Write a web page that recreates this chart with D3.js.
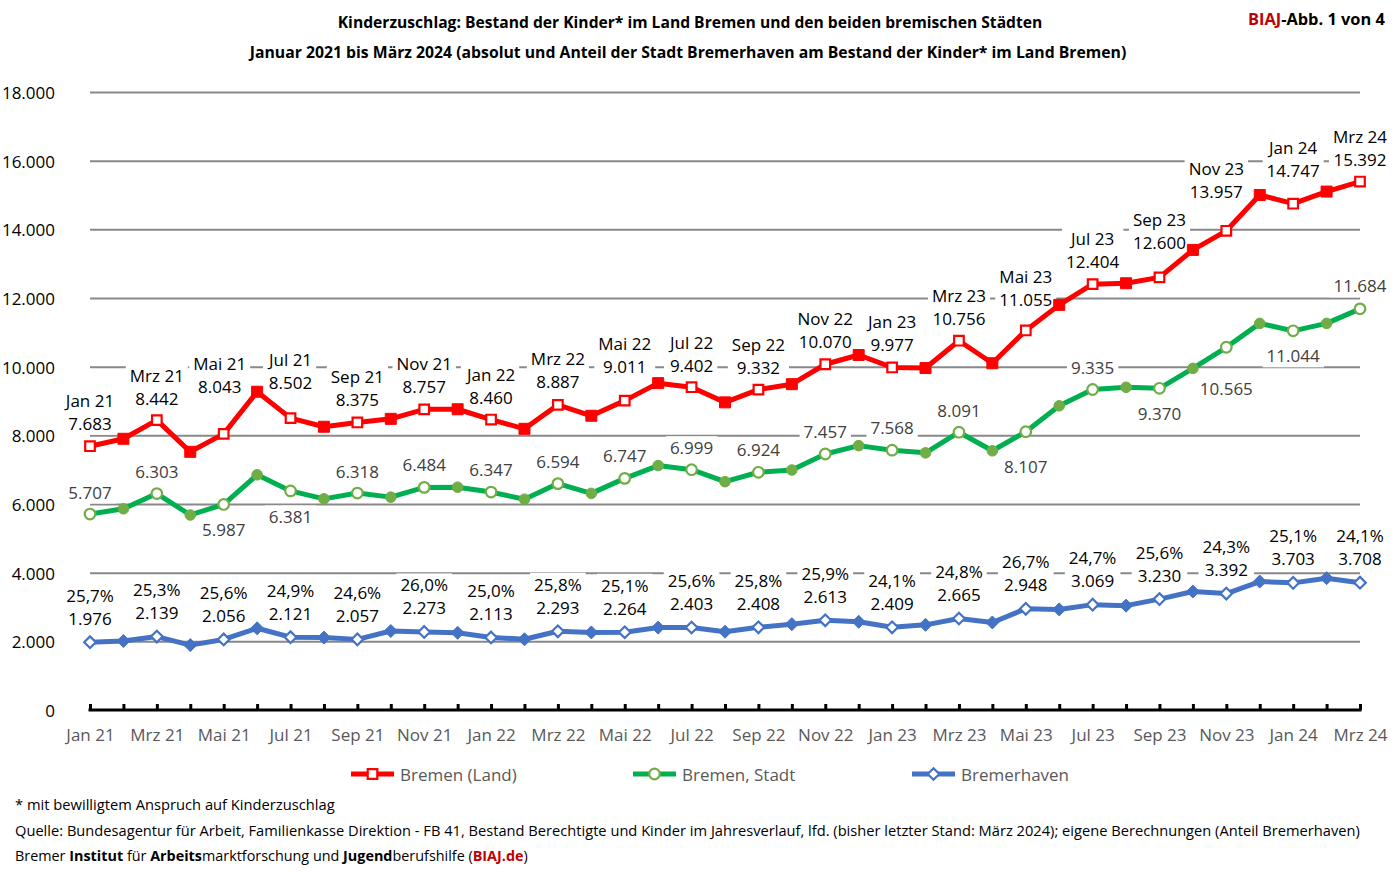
<!DOCTYPE html>
<html><head><meta charset="utf-8">
<script src="https://cdn.jsdelivr.net/npm/d3@7"></script>
<style>body{margin:0;background:#fff}svg{display:block}</style>
</head><body>
<svg id="chart" width="1400" height="872"></svg>
<script>
// ---------- DATA ----------
const months = ["Jan 21","Feb 21","Mrz 21","Apr 21","Mai 21","Jun 21","Jul 21","Aug 21","Sep 21","Okt 21","Nov 21","Dez 21",
"Jan 22","Feb 22","Mrz 22","Apr 22","Mai 22","Jun 22","Jul 22","Aug 22","Sep 22","Okt 22","Nov 22","Dez 22",
"Jan 23","Feb 23","Mrz 23","Apr 23","Mai 23","Jun 23","Jul 23","Aug 23","Sep 23","Okt 23","Nov 23","Dez 23",
"Jan 24","Feb 24","Mrz 24"];
const bremenLand = [7683,7900,8442,7520,8043,9270,8502,8250,8375,8480,8757,8760,8460,8190,8887,8570,9011,9520,9402,8960,
9332,9490,10070,10340,9977,9960,10756,10100,11055,11800,12404,12430,12600,13400,13957,15000,14747,15100,15392];
const bremenStadt = [5707,5860,6303,5680,5987,6850,6381,6150,6318,6200,6484,6490,6347,6140,6594,6310,6747,7120,6999,6650,
6924,6990,7457,7700,7568,7490,8091,7550,8107,8860,9335,9400,9370,9950,10565,11260,11044,11260,11684];
const bremerhaven = [1976,2010,2139,1890,2056,2380,2121,2110,2057,2300,2273,2250,2113,2060,2293,2260,2264,2400,2403,2280,
2408,2500,2613,2570,2409,2480,2665,2550,2948,2930,3069,3040,3230,3450,3392,3740,3703,3840,3708];
// Anteil Bremerhaven (%), labelled months (every second month from Jan 21)
const bremerhavenShare = [25.7,25.3,25.6,24.9,24.6,26.0,25.0,25.8,25.1,25.6,25.8,25.9,24.1,24.8,26.7,24.7,25.6,24.3,25.1,24.1];
const yTicks = [0,2000,4000,6000,8000,10000,12000,14000,16000,18000];
const seriesNames = ["Bremen (Land)","Bremen, Stadt","Bremerhaven"];

// ---------- LAYOUT (label placement, px) ----------
const redLabelLift = [23,22,47,36,23,23,22,23,34,22,22,23,22.5,22,31,22.5,35,39,33,22];
const greenLabelShift = [-22,-22,25.5,26,-22,-23,-23,-22.6,-23,-22,-23,-22,-22.5,-22,35,-22,25.7,41,25,-23];
const redLabelDx = new Array(20).fill(0); redLabelDx[17] = -10; redLabelDx[2] = -4;

// ---------- CHART ----------
const svg = d3.select("#chart");
const FONT = "'Open Sans','Noto Sans',sans-serif";
const FS = 17;
const NARROW = "'Liberation Sans Narrow','Open Sans',sans-serif";
const x = d3.scalePoint().domain(months).range([90,1360]);
const y = d3.scaleLinear().domain([0,18000]).range([710,92]);
const fmt = d3.formatLocale({decimal:",",thousands:".",grouping:[3],currency:["","€"]});
const fmtN = fmt.format(",d");
const fmtP = v => fmt.format(".1f")(v) + "%";

function fitText(sel, targetW, anchor, tx, ty){
  const w = sel.node().getComputedTextLength();
  const s = w > 0 ? targetW / w : 1;
  sel.attr("x",0).attr("y",0).attr("text-anchor",anchor)
     .attr("transform",`translate(${tx},${ty}) scale(${s},1)`);
}

// Titles
const t1 = svg.append("text").attr("font-family",NARROW).attr("font-weight","bold").attr("font-size",16)
  .attr("dominant-baseline","central").attr("fill","#000")
  .text("Kinderzuschlag: Bestand der Kinder* im Land  Bremen und den beiden bremischen Städten");
fitText(t1, 705, "middle", 690, 22);
const t2 = svg.append("text").attr("font-family",NARROW).attr("font-weight","bold").attr("font-size",16)
  .attr("dominant-baseline","central").attr("fill","#000")
  .text("Januar  2021 bis März 2024 (absolut und Anteil der Stadt Bremerhaven am Bestand der Kinder* im Land  Bremen)");
fitText(t2, 877, "middle", 688, 52);
const t3 = svg.append("text").attr("font-family",NARROW).attr("font-weight","bold").attr("font-size",16)
  .attr("dominant-baseline","central");
t3.append("tspan").attr("fill","#C00000").text("BIAJ");
t3.append("tspan").attr("fill","#000").text("-Abb. 1 von 4");
fitText(t3, 137, "start", 1248, 19);

// Grid + y labels
const gGrid = svg.append("g").attr("transform","translate(90,0)")
  .call(d3.axisLeft(y).tickValues(yTicks).tickSize(-1270).tickPadding(35).tickFormat(d=>fmtN(d)));
gGrid.select(".domain").remove();
gGrid.selectAll(".tick line").attr("stroke","#898989").attr("stroke-width",2)
  .filter(d=>d===0).remove();
gGrid.selectAll(".tick text").attr("font-family",FONT).attr("font-size",FS).attr("fill","#000")
  .attr("dy",null).attr("dominant-baseline","central");

const labelBg = svg.append("g");
const seriesG = svg.append("g");
const labelG = svg.append("g");

// x axis
const gx = svg.append("g").attr("transform","translate(0,710)")
  .call(d3.axisBottom(x).tickSizeInner(-6).tickSizeOuter(0).tickPadding(0)
    .tickFormat((d,i)=> i%2===0 ? d : ""));
gx.select(".domain").attr("stroke","#000").attr("stroke-width",3).attr("d","M88.5,0H1361.5");
gx.selectAll(".tick line").attr("stroke","#000").attr("stroke-width",3);
gx.selectAll(".tick text").attr("font-family",FONT).attr("font-size",FS).attr("fill","#595959")
  .attr("dy",null).attr("y",24).attr("dominant-baseline","central");

// series
const series = [
  {name:seriesNames[0], data:bremenLand, line:"#FF0000", mark:"#FF0000", shape:"square"},
  {name:seriesNames[1], data:bremenStadt, line:"#00B050", mark:"#70AD47", shape:"circle"},
  {name:seriesNames[2], data:bremerhaven, line:"#4472C4", mark:"#4472C4", shape:"diamond"}
];
const lineGen = d3.line().x((d,i)=>x(months[i])).y(d=>y(d));
function markerPath(shape){
  if(shape==="square") return "M-5.5,-5.5H5.5V5.5H-5.5Z";
  if(shape==="diamond") return "M0,-6.5L6.5,0L0,6.5L-6.5,0Z";
  return d3.symbol(d3.symbolCircle, Math.PI*5.3*5.3)();
}
function drawMarker(g, s, cx, cy, hollow){
  const p = g.append("path").attr("d", markerPath(s.shape)).attr("transform",`translate(${cx},${cy})`);
  if(hollow){
    p.attr("fill","#fff").attr("stroke",s.mark).attr("stroke-width",2.2);
    if(s.shape==="square") p.attr("d","M-4.8,-4.8H4.8V4.8H-4.8Z");
    if(s.shape==="diamond") p.attr("d","M0,-5.8L5.8,0L0,5.8L-5.8,0Z");
  } else {
    p.attr("fill",s.mark).attr("stroke",s.mark).attr("stroke-width",1);
  }
}
series.forEach(s=>{
  seriesG.append("path").datum(s.data).attr("d",lineGen).attr("fill","none")
    .attr("stroke",s.line).attr("stroke-width",5).attr("stroke-linejoin","round");
  s.data.forEach((v,i)=> drawMarker(seriesG, s, x(months[i]), y(v), i%2===0));
});

// labels
function addBg(nodes, pad){
  let x0=Infinity,y0=Infinity,x1=-Infinity,y1=-Infinity;
  nodes.forEach(n=>{const b=n.getBBox(); x0=Math.min(x0,b.x); y0=Math.min(y0,b.y); x1=Math.max(x1,b.x+b.width); y1=Math.max(y1,b.y+b.height);});
  labelBg.append("rect").attr("x",x0-pad).attr("y",y0).attr("width",x1-x0+2*pad).attr("height",y1-y0).attr("fill","#fff");
}
function lbl(txt, cx, cy, color){
  return labelG.append("text").attr("x",cx).attr("y",cy).attr("text-anchor","middle")
    .attr("dominant-baseline","central").attr("font-family",FONT).attr("font-size",FS)
    .attr("fill",color).text(txt);
}
let k = 0;
months.forEach((m,i)=>{
  if(i%2!==0) return;
  const cx = x(m);
  // Bremen (Land)
  const ry = y(bremenLand[i]) - redLabelLift[k];
  const a = lbl(m, cx + redLabelDx[k], ry - 23, "#000");
  const b = lbl(fmtN(bremenLand[i]), cx + redLabelDx[k], ry, "#000");
  addBg([a.node(), b.node()], 4);
  // Bremen, Stadt
  const gy = y(bremenStadt[i]) + greenLabelShift[k];
  const c = lbl(fmtN(bremenStadt[i]), cx, gy, "#404040");
  addBg([c.node()], 4);
  // Bremerhaven
  const by = y(bremerhaven[i]) - 24;
  const d = lbl(fmtP(bremerhavenShare[k]), cx, by - 23, "#000");
  const e = lbl(fmtN(bremerhaven[i]), cx, by, "#000");
  addBg([d.node(), e.node()], 4);
  k++;
});

// legend
const legendX = [351, 633, 912];
series.forEach((s,i)=>{
  const g = svg.append("g").attr("transform",`translate(${legendX[i]},774)`);
  g.append("line").attr("x1",0).attr("x2",43).attr("stroke",s.line).attr("stroke-width",5);
  drawMarker(g, s, 21.5, 0, true);
  g.append("text").attr("x",49).attr("y",0).attr("dominant-baseline","central")
    .attr("font-family",FONT).attr("font-size",FS).attr("fill","#595959").text(s.name);
});

// footer
const f1 = svg.append("text").attr("font-family",NARROW).attr("font-size",15).attr("fill","#000")
  .attr("dominant-baseline","central").text("* mit bewilligtem Anspruch auf Kinderzuschlag");
fitText(f1, 320, "start", 15, 804);
const f2 = svg.append("text").attr("font-family",NARROW).attr("font-size",15).attr("fill","#000")
  .attr("dominant-baseline","central")
  .text("Quelle: Bundesagentur für Arbeit, Familienkasse Direktion - FB 41, Bestand Berechtigte und Kinder im Jahresverlauf, lfd. (bisher letzter Stand: März 2024); eigene Berechnungen (Anteil Bremerhaven)");
fitText(f2, 1345, "start", 15, 830);
const f3 = svg.append("text").attr("font-family",NARROW).attr("font-size",15).attr("fill","#000")
  .attr("dominant-baseline","central");
[["Bremer ",0],["Institut",1],[" für ",0],["Arbeits",1],["marktforschung und ",0],["Jugend",1],["berufshilfe (",0],["BIAJ.de",2],[")",0]]
  .forEach(([t,b])=>{ f3.append("tspan").attr("font-weight", b? "bold":"normal").attr("fill", b===2?"#C00000":"#000").text(t); });
fitText(f3, 513, "start", 15, 855);
</script>
</body></html>
